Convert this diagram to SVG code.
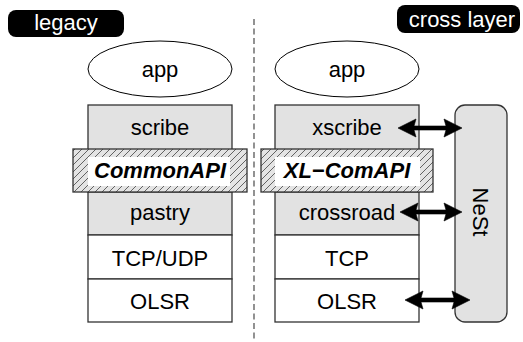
<svg xmlns="http://www.w3.org/2000/svg" width="523" height="342" viewBox="0 0 523 342">
<style>
text{font-family:"Liberation Sans",Arial,sans-serif;font-size:22px;fill:#000;text-anchor:middle}
.pill{fill:#000}
.pilltxt{fill:#fff}
.app{fill:#fff;stroke:#000;stroke-width:1}
.gray{fill:#e2e2e2;stroke:#333;stroke-width:1.3}
.white{fill:#fff;stroke:#333;stroke-width:1.3}
.hatch{fill:url(#hp);stroke:#333;stroke-width:1.3}
.inner{fill:#fff;stroke:none}
.api{font-weight:bold;font-style:italic}
.div{stroke:#777;stroke-width:1.6;stroke-dasharray:6 3.5;fill:none}
.arr{fill:#000;stroke:#000;stroke-width:0.6;stroke-linejoin:miter}
</style>
<defs>
<pattern id="hp" patternUnits="userSpaceOnUse" width="7" height="7">
<rect width="7" height="7" fill="#e4e4e4"/>
<path d="M-1,8 L8,-1" stroke="#555" stroke-width="0.9"/>
</pattern>
</defs>

<g id="divider">
<line class="div" x1="254" y1="19" x2="254" y2="342"/>
</g>

<g id="legacy-label">
<rect class="pill" x="8" y="10" width="116" height="27" rx="8"/>
<text class="pilltxt" x="66" y="30">legacy</text>
</g>
<g id="crosslayer-label">
<rect class="pill" x="397" y="5" width="123" height="28" rx="8"/>
<text class="pilltxt" x="462" y="27">cross layer</text>
</g>

<g id="app-left">
<ellipse class="app" cx="160" cy="69" rx="72" ry="28"/>
<text x="160" y="77">app</text>
</g>
<g id="app-right">
<ellipse class="app" cx="347" cy="69" rx="72" ry="28"/>
<text x="347" y="77">app</text>
</g>

<g id="scribe">
<rect class="gray" x="88" y="105" width="144" height="87"/>
<text x="160" y="135">scribe</text>
</g>
<g id="pastry">
<rect class="gray" x="88" y="192" width="144" height="43"/>
<text x="160" y="220">pastry</text>
</g>
<g id="tcpudp">
<rect class="white" x="88" y="235" width="144" height="44"/>
<text x="160" y="266">TCP/UDP</text>
</g>
<g id="olsr-left">
<rect class="white" x="88" y="279" width="144" height="43"/>
<text x="160" y="309">OLSR</text>
</g>
<g id="commonapi">
<rect class="hatch" x="73" y="149" width="174" height="43"/>
<rect class="inner" x="88" y="157" width="142" height="29"/>
<text class="api" x="160" y="178">CommonAPI</text>
</g>

<g id="xscribe">
<rect class="gray" x="275" y="105" width="144" height="87"/>
<text x="347" y="135">xscribe</text>
</g>
<g id="crossroad">
<rect class="gray" x="275" y="192" width="144" height="43"/>
<text x="347" y="220">crossroad</text>
</g>
<g id="tcp">
<rect class="white" x="275" y="235" width="144" height="44"/>
<text x="347" y="266">TCP</text>
</g>
<g id="olsr-right">
<rect class="white" x="275" y="279" width="144" height="43"/>
<text x="347" y="309">OLSR</text>
</g>
<g id="xlcomapi">
<rect class="hatch" x="261" y="149" width="172" height="43"/>
<rect class="inner" x="275" y="157" width="145" height="29"/>
<text class="api" x="347" y="178">XL−ComAPI</text>
</g>

<g id="nest">
<rect class="gray" x="455" y="105" width="52" height="217" rx="10"/>
<text transform="translate(473,212) rotate(90)" x="0" y="0">NeSt</text>
</g>

<g id="connectors">
<path class="arr" d="M398,128 L416,119 L414,126 L446,126 L444,119 L462,128 L444,137 L446,130 L414,130 L416,137 Z"/>
<path class="arr" d="M400,212 L418,203 L416,210 L446,210 L444,203 L462,212 L444,221 L446,214 L416,214 L418,221 Z"/>
<path class="arr" d="M405,300 L423,291 L421,298 L454,298 L452,291 L470,300 L452,309 L454,302 L421,302 L423,309 Z"/>
</g>
</svg>
